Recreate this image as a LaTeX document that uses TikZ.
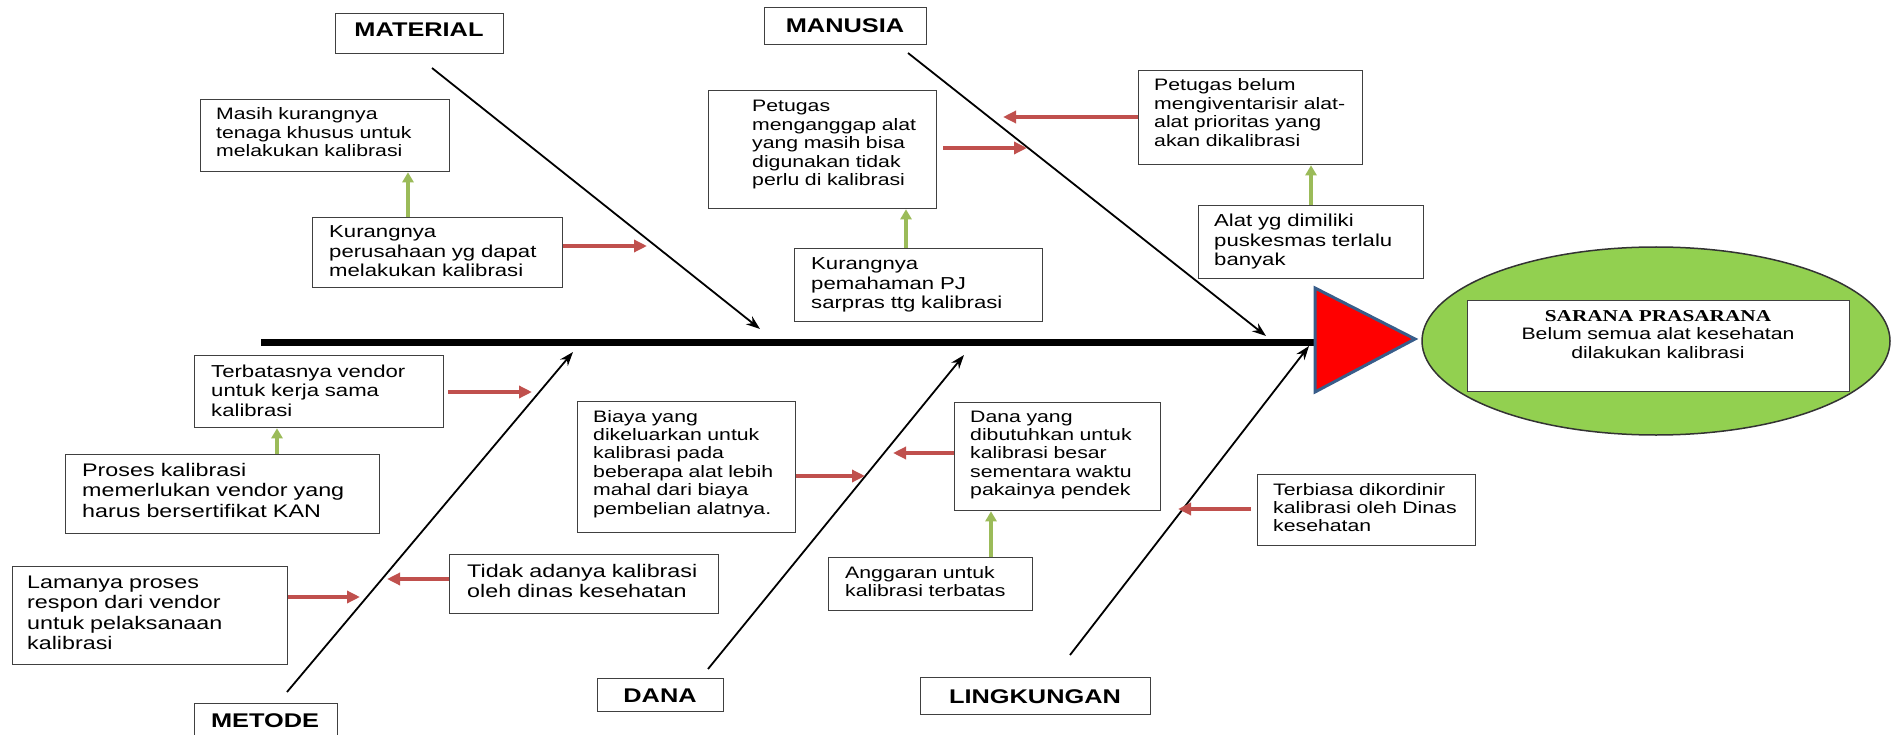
\documentclass[tikz,border=0pt]{standalone}
\usepackage{fontspec}
\setmainfont{Liberation Sans}[FakeStretch=1.28]
\newfontfamily\timesf{Liberation Serif}[FakeStretch=1.28]
\usetikzlibrary{arrows.meta,shapes.geometric}
\definecolor{redc}{HTML}{C0504D}
\definecolor{greenc}{HTML}{9BBB59}
\definecolor{ellc}{HTML}{92D050}
\definecolor{tribord}{HTML}{385D8A}
\tikzset{
 box/.style={draw=black!75, line width=1.3pt, fill=white, anchor=north west, inner sep=0pt},
 txt/.style={anchor=base west, inner sep=0pt, text width=420pt, align=left},
 fS/.style={font=\fontsize{16.6}{18.4}\selectfont},
 fM/.style={font=\fontsize{17.3}{19.5}\selectfont},
 fL/.style={font=\fontsize{18.2}{20.6}\selectfont},
 lab/.style={anchor=base, inner sep=0pt, font=\fontsize{19.8}{22}\selectfont\bfseries},
 redarr/.style={draw=redc, line width=3.5pt, -{Triangle[length=13pt,width=12pt]}},
 grarr/.style={draw=greenc, line width=3.5pt, -{Triangle[length=10pt,width=11pt]}},
 bone/.style={draw=black, line width=1.8pt, -{Stealth[length=14pt,width=10pt]}},
}
\begin{document}
\begin{tikzpicture}[x=1pt,y=-1pt]
\useasboundingbox (0,0) rectangle (1892,735);

% spine
\coordinate (sp1) at (261,342);
\coordinate (sp2) at (1316,342);
\draw[line width=7pt] (sp1) -- (sp2);

% bones
\coordinate (matS) at (432,68);   \coordinate (matE) at (760,329);
\coordinate (manS) at (908,53);   \coordinate (manE) at (1266,336);
\coordinate (metS) at (287,692);  \coordinate (metE) at (573,352);
\coordinate (danS) at (708,669);  \coordinate (danE) at (964,355);
\coordinate (linS) at (1070,655); \coordinate (linE) at (1309,346);
\draw[bone] (matS) -- (matE);
\draw[bone] (manS) -- (manE);
\draw[bone] (metS) -- (metE);
\draw[bone] (danS) -- (danE);
\draw[bone] (linS) -- (linE);

% head
\draw[fill=red, draw=tribord, line width=3pt, line join=miter] (1315,288) -- (1315,392) -- (1415,339) -- cycle;
\node[draw=black!80, line width=1.5pt, fill=ellc, ellipse, minimum width=468pt, minimum height=188pt, inner sep=0pt] (goal) at (1656,341) {};
\node[box, minimum width=382pt, minimum height=91pt] (goalbox) at (1467,300) {};
\node[anchor=base, inner sep=0pt, text width=380pt, align=center, font=\fontsize{16.6}{18.5}\selectfont] (goalt) at (1658,321) {{\timesf\bfseries SARANA PRASARANA}\\Belum semua alat kesehatan\\dilakukan kalibrasi};

% category labels
\node[box, minimum width=168pt, minimum height=40pt] (lmat) at (335,13) {};
\node[lab] at (419,36.7) {MATERIAL};
\node[box, minimum width=162pt, minimum height=37pt] (lman) at (764,7) {};
\node[lab] at (845,32.7) {MANUSIA};
\node[box, minimum width=143pt, minimum height=45pt] (lmet) at (194,703) {};
\node[lab] at (265,727) {METODE};
\node[box, minimum width=126pt, minimum height=33pt] (ldan) at (597,678) {};
\node[lab] at (660,702) {DANA};
\node[box, minimum width=230pt, minimum height=37pt] (llin) at (920,677) {};
\node[lab] at (1035,703) {LINGKUNGAN};

% cause boxes
\node[box, minimum width=249pt, minimum height=72pt] (m1) at (200,99) {};
\node[txt,fS] at (216,120) {Masih kurangnya\\tenaga khusus untuk\\melakukan kalibrasi};
\node[box, minimum width=250pt, minimum height=70pt] (m2) at (312,217) {};
\node[txt,fM] at (329,238) {Kurangnya\\perusahaan yg dapat\\melakukan kalibrasi};
\node[box, minimum width=228pt, minimum height=118pt] (u1) at (708,90) {};
\node[txt,fS] at (752,112) {Petugas\\menganggap alat\\yang masih bisa\\digunakan tidak\\perlu di kalibrasi};
\node[box, minimum width=248pt, minimum height=73pt] (u2) at (794,248) {};
\node[txt,fM] at (811,270) {Kurangnya\\pemahaman PJ\\sarpras ttg kalibrasi};
\node[box, minimum width=224pt, minimum height=94pt] (u3) at (1138,70) {};
\node[txt,fS] at (1154,91) {Petugas belum\\mengiventarisir alat-\\alat prioritas yang\\akan dikalibrasi};
\node[box, minimum width=225pt, minimum height=73pt] (u4) at (1198,205) {};
\node[txt,fM] at (1214,227) {Alat yg dimiliki\\puskesmas terlalu\\banyak};
\node[box, minimum width=249pt, minimum height=72pt] (t1) at (194,355) {};
\node[txt,fM] at (211,377) {Terbatasnya vendor\\untuk kerja sama\\kalibrasi};
\node[box, minimum width=314pt, minimum height=79pt] (t2) at (65,454) {};
\node[txt,fL] at (82,476) {Proses kalibrasi\\memerlukan vendor yang\\harus bersertifikat KAN};
\node[box, minimum width=275pt, minimum height=98pt] (t3) at (12,566) {};
\node[txt,fL] at (27,588) {Lamanya proses\\respon dari vendor\\untuk pelaksanaan\\kalibrasi};
\node[box, minimum width=269pt, minimum height=59pt] (t4) at (449,554) {};
\node[txt,fL] at (467,577) {Tidak adanya kalibrasi\\oleh dinas kesehatan};
\node[box, minimum width=218pt, minimum height=131pt] (d1) at (577,401) {};
\node[txt,fS] at (593,422) {Biaya yang\\dikeluarkan untuk\\kalibrasi pada\\beberapa alat lebih\\mahal dari biaya\\pembelian alatnya.};
\node[box, minimum width=206pt, minimum height=108pt] (d2) at (954,402) {};
\node[txt,fS] at (970,422) {Dana yang\\dibutuhkan untuk\\kalibrasi besar\\sementara waktu\\pakainya pendek};
\node[box, minimum width=204pt, minimum height=53pt] (d3) at (828,557) {};
\node[txt,fS] at (845,578) {Anggaran untuk\\kalibrasi terbatas};
\node[box, minimum width=218pt, minimum height=71pt] (l1) at (1257,474) {};
\node[txt,fS] at (1273,495) {Terbiasa dikordinir\\kalibrasi oleh Dinas\\kesehatan};

% red arrows
\coordinate (rm2) at (647,246);
\coordinate (ru3) at (1003,117);
\coordinate (ru1s) at (943,148); \coordinate (ru1) at (1027,148);
\coordinate (rt1s) at (448,392); \coordinate (rt1) at (532,392);
\coordinate (rt3) at (360,597);
\coordinate (rt4) at (387,579);
\coordinate (rd1) at (865,476);
\coordinate (rd2) at (893,453);
\coordinate (rl1s) at (1251,509); \coordinate (rl1) at (1178,509);
\draw[redarr] (m2.east |- rm2) -- (rm2);
\draw[redarr] (u3.west |- ru3) -- (ru3);
\draw[redarr] (ru1s) -- (ru1);
\draw[redarr] (rt1s) -- (rt1);
\draw[redarr] (t3.east |- rt3) -- (rt3);
\draw[redarr] (t4.west |- rt4) -- (rt4);
\draw[redarr] (d1.east |- rd1) -- (rd1);
\draw[redarr] (d2.west |- rd2) -- (rd2);
\draw[redarr] (rl1s) -- (rl1);

% green arrows
\coordinate (gm) at (408,0);
\coordinate (gu1) at (906,0);
\coordinate (gu3) at (1311,0);
\coordinate (gt) at (277,0);
\coordinate (gd) at (991,0);
\draw[grarr] (m2.north -| gm) -- (m1.south -| gm);
\draw[grarr] (u2.north -| gu1) -- (u1.south -| gu1);
\draw[grarr] (u4.north -| gu3) -- (u3.south -| gu3);
\draw[grarr] (t2.north -| gt) -- (t1.south -| gt);
\draw[grarr] (d3.north -| gd) -- (d2.south -| gd);
\end{tikzpicture}
\end{document}
